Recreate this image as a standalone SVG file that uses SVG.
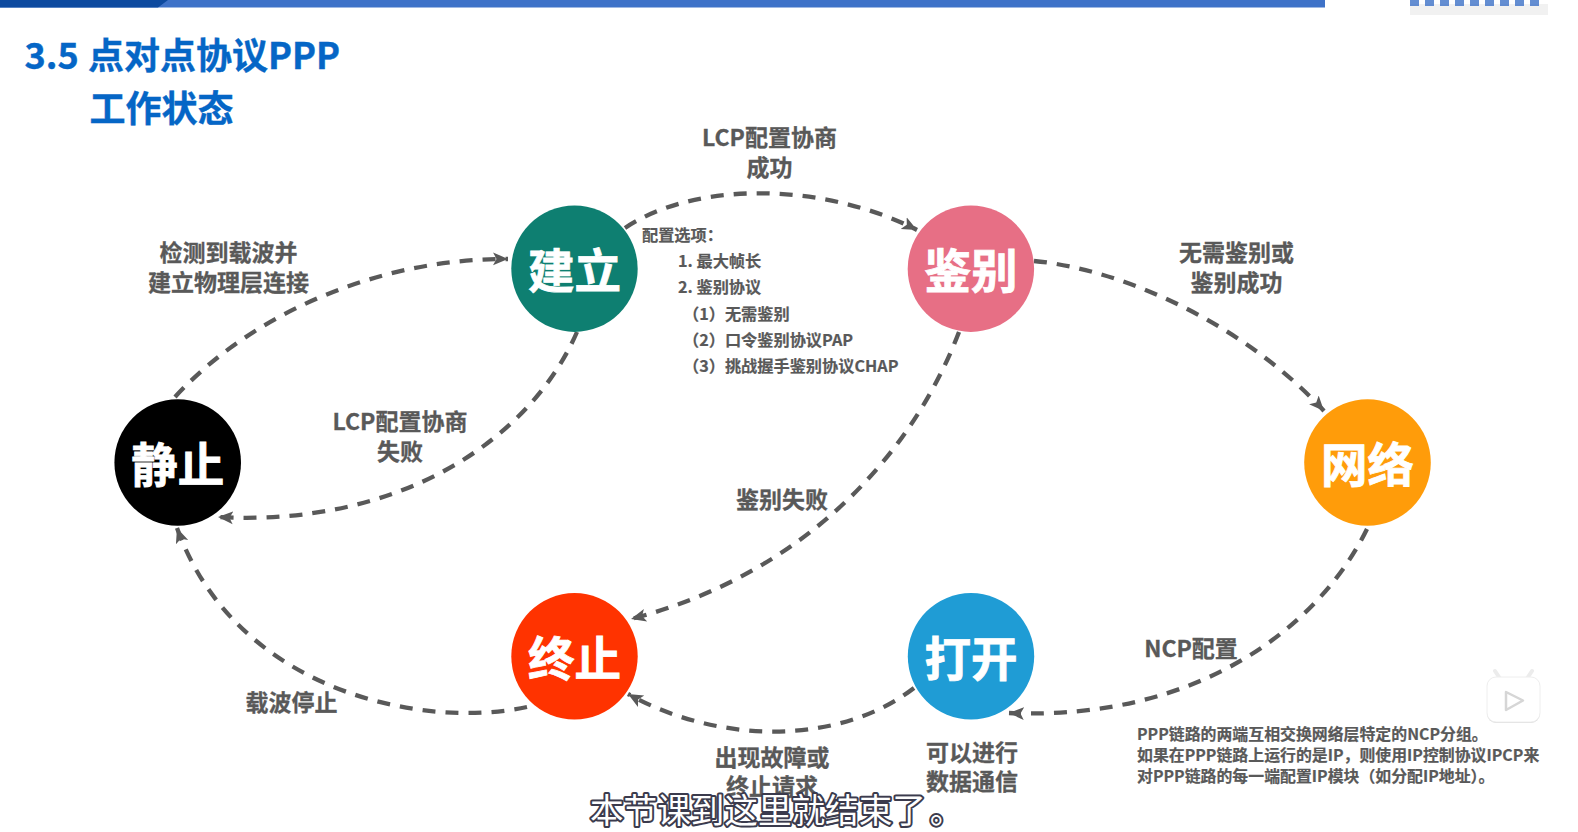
<svg xmlns="http://www.w3.org/2000/svg" width="1578" height="832" viewBox="0 0 1578 832">
<style>
text{font-family:"Noto Sans CJK SC","Noto Sans",sans-serif;font-weight:700;fill:#595959}
.l{font-size:23px;text-anchor:middle;stroke:#595959;stroke-width:.3px}
.s{font-size:16.2px;stroke:#595959;stroke-width:.2px}
.p{font-size:15.9px;stroke:#595959;stroke-width:.2px}
.n{font-size:46.5px;fill:#fff;text-anchor:middle;stroke:#fff;stroke-width:.8px}
.t{font-size:36px;fill:#0566c6;stroke:#0566c6;stroke-width:.4px}
.c{fill:none;stroke:#595959;stroke-width:4.3;stroke-dasharray:13 10;marker-end:url(#a)}
.u{font-size:33.6px;font-weight:400;fill:#fff;stroke:#3b3b4d;stroke-width:4px;paint-order:stroke;stroke-linejoin:round}
</style>
<defs>
<marker id="a" markerUnits="userSpaceOnUse" markerWidth="18" markerHeight="18" refX="15" refY="9" orient="auto">
<path d="M0 2.5 L15 9 L0 15.5 L3.5 9 Z" fill="#595959"/>
</marker>
</defs>
<rect width="1578" height="832" fill="#fff"/>
<g id="top-bar">
<rect width="1325" height="7.5" fill="#3e72c8"/>
<path d="M0 0H168L158 7.5H0Z" fill="#0d4a9f"/>
<rect x="1410" y="4" width="138" height="11" fill="#f1f1f1"/>
<path d="M1410 3H1543" stroke="#3e72c8" stroke-width="6" stroke-dasharray="9 6" opacity=".8"/>
</g>
<g id="title">
<text class="t" x="24.5" y="69">3.5</text>
<text class="t" x="88" y="69">点对点协议PPP</text>
<text class="t" x="89.5" y="122">工作状态</text>
</g>
<g id="connectors">
<path class="c" d="M175 397C255 310 385 258 508 259"/>
<path class="c" d="M577 332C530 440 400 527 218 517"/>
<path class="c" d="M625 228C700 178 830 185 917 230"/>
<path class="c" d="M1034 261C1130 270 1250 330 1324 411"/>
<path class="c" d="M1367 529C1320 625 1200 721 1009 713"/>
<path class="c" d="M959 332C910 460 800 575 631 619"/>
<path class="c" d="M914 688C840 745 720 745 628 694"/>
<path class="c" d="M527 707C420 730 235 690 177 528"/>
</g>
<g id="node-jingzhi"><circle cx="177.7" cy="462.5" r="63.3" fill="#000"/><text class="n" x="177.7" y="482">静止</text></g>
<g id="node-jianli"><circle cx="574.5" cy="268.7" r="63.2" fill="#0e7f71"/><text class="n" x="574.5" y="288">建立</text></g>
<g id="node-jianbie"><circle cx="970.9" cy="268.7" r="63.2" fill="#e76f85"/><text class="n" x="970.9" y="288">鉴别</text></g>
<g id="node-wangluo"><circle cx="1367.5" cy="462.5" r="63.3" fill="#ff9c0a"/><text class="n" x="1367.5" y="482">网络</text></g>
<g id="node-dakai"><circle cx="971" cy="656.3" r="63.2" fill="#1f9cd5"/><text class="n" x="971" y="676">打开</text></g>
<g id="node-zhongzhi"><circle cx="574.5" cy="656.3" r="63.2" fill="#ff3300"/><text class="n" x="574.5" y="676">终止</text></g>
<g id="labels">
<text class="l" x="769.5" y="146">LCP配置协商</text>
<text class="l" x="769.5" y="176">成功</text>
<text class="l" x="228.5" y="261">检测到载波并</text>
<text class="l" x="228.5" y="291">建立物理层连接</text>
<text class="l" x="400" y="430">LCP配置协商</text>
<text class="l" x="400" y="460">失败</text>
<text class="l" x="1236.5" y="261">无需鉴别或</text>
<text class="l" x="1236.5" y="291">鉴别成功</text>
<text class="l" x="782" y="507.5">鉴别失败</text>
<text class="l" x="291.5" y="710.5">载波停止</text>
<text class="l" x="1191" y="657">NCP配置</text>
<text class="l" x="772" y="765.5">出现故障或</text>
<text class="l" x="772" y="795">终止请求</text>
<text class="l" x="972" y="761">可以进行</text>
<text class="l" x="972" y="790">数据通信</text>
</g>
<g id="options">
<text class="s" x="642" y="240.5">配置选项：</text>
<text class="s" x="678" y="267">1. 最大帧长</text>
<text class="s" x="678" y="293">2. 鉴别协议</text>
<text class="s" x="683" y="319.5">（1）无需鉴别</text>
<text class="s" x="683" y="346">（2）口令鉴别协议PAP</text>
<text class="s" x="683" y="372">（3）挑战握手鉴别协议CHAP</text>
</g>
<g id="note">
<text class="p" x="1137" y="739.5">PPP链路的两端互相交换网络层特定的NCP分组。</text>
<text class="p" x="1137" y="760.5">如果在PPP链路上运行的是IP，则使用IP控制协议IPCP来</text>
<text class="p" x="1137" y="781.5">对PPP链路的每一端配置IP模块（如分配IP地址）。</text>
</g>
<g id="play-badge">
<path d="M1501 680L1495 671M1526 680L1532 671" stroke="#ececec" stroke-width="4" stroke-linecap="round"/>
<rect x="1487" y="678" width="53" height="45" rx="9" fill="#dcdcdc"/>
<rect x="1487" y="677" width="53" height="45" rx="9" fill="#fff" stroke="#eeeeee" stroke-width="1"/>
<path d="M1506 692L1523 700.5L1506 710Z" fill="#fff" stroke="#d6d6d6" stroke-width="2.5" stroke-linejoin="round"/>
</g>
<g id="subtitle"><text class="u" x="590" y="823">本节课到这里就结束了<tspan dx="4">。</tspan></text></g>
</svg>
